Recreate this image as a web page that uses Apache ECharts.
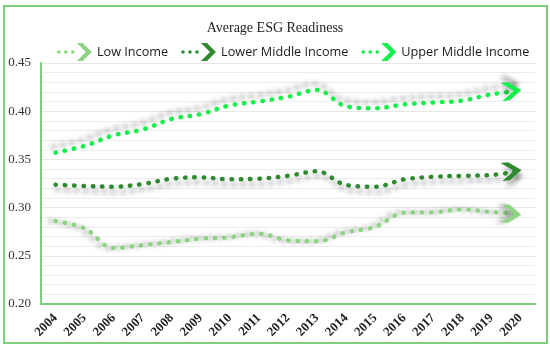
<!DOCTYPE html>
<html><head><meta charset="utf-8">
<script src="https://cdn.jsdelivr.net/npm/echarts@6/dist/echarts.min.js"></script>
<style>html,body{margin:0;padding:0;background:#fff}#c{width:550px;height:348px}</style>
</head><body><div id="c"></div>
<script>
var years = ['2004','2005','2006','2007','2008','2009','2010','2011','2012','2013','2014','2015','2016','2017','2018','2019','2020'];
var lowIncome = [0.286,0.2785,0.258,0.261,0.2643,0.2678,0.2692,0.273,0.266,0.265,0.2744,0.280,0.2947,0.2951,0.2982,0.2954,0.2934];
var lowerMiddle = [0.3238,0.3224,0.3217,0.3245,0.330,0.3314,0.3293,0.330,0.333,0.3377,0.3234,0.3217,0.3293,0.332,0.333,0.3338,0.338];
var upperMiddle = [0.357,0.364,0.375,0.381,0.392,0.397,0.406,0.410,0.415,0.422,0.405,0.403,0.407,0.409,0.411,0.4176,0.421];
var seriesNames = ['Low Income','Lower Middle Income','Upper Middle Income'];
var colors = ['#8dd483','#2f8a2f','#12ef48'];

var chevron = 'path://M0,0 L6,0 L16,8 L6,16 L0,16 L10,8 Z';
var legendIcon = 'path://M0.2,9a1.8,1.8 0 1,0 3.6,0a1.8,1.8 0 1,0 -3.6,0Z M7.2,9a1.8,1.8 0 1,0 3.6,0a1.8,1.8 0 1,0 -3.6,0Z M14.2,9a1.8,1.8 0 1,0 3.6,0a1.8,1.8 0 1,0 -3.6,0Z M20,0 L26,0 L35,9 L26,18 L20,18 L29,9 Z';

function mk(name, vals, color, sx, sy, rot) {
  var data = vals.map(function (v, i) {
    if (i === vals.length - 1) {
      return { value: v, symbol: chevron, symbolSize: [20, 18], symbolOffset: [-9, 0], symbolRotate: rot,
        itemStyle: { color: color, shadowColor: 'rgba(0,0,0,0.35)', shadowBlur: 5, shadowOffsetX: sx, shadowOffsetY: sy } };
    }
    return v;
  });
  return {
    name: name, type: 'line', data: data, smooth: 0.35, symbol: 'none', showSymbol: true,
    itemStyle: { color: color },
    lineStyle: { color: color, width: 4.5, type: [0.5, 8.8], cap: 'round',
      shadowColor: 'rgba(0,0,0,0.38)', shadowBlur: 5, shadowOffsetX: sx, shadowOffsetY: sy },
    emphasis: { disabled: true }, animation: false
  };
}

var chart = echarts.init(document.getElementById('c'));
chart.setOption({
  animation: false,
  color: colors,
  title: { text: 'Average ESG Readiness', left: 'center', top: 16,
    textStyle: { fontFamily: 'Liberation Serif', fontSize: 14, fontWeight: 'normal', color: '#222' } },
  legend: { data: seriesNames, left: 52, top: 38, icon: legendIcon, itemWidth: 35, itemHeight: 18, itemGap: 13,
    textStyle: { fontFamily: 'Open Sans', fontSize: 12.7, color: '#1a1a1a' } },
  grid: { left: 41, right: 15, top: 63, bottom: 44 },
  xAxis: { type: 'category', data: years, boundaryGap: true,
    axisLine: { lineStyle: { color: '#7ccd7c', width: 2 } },
    axisTick: { show: false },
    axisLabel: { rotate: 45, margin: 12, fontFamily: 'Liberation Serif', fontSize: 13, fontWeight: 'bold', color: '#222' } },
  yAxis: { type: 'value', min: 0.2, max: 0.45, interval: 0.05,
    axisLine: { show: true, lineStyle: { color: '#7ccd7c', width: 2 } },
    axisTick: { show: false },
    axisLabel: { margin: 10, fontFamily: 'Liberation Serif', fontSize: 13, color: '#333',
      formatter: function (v) { return v.toFixed(2); } },
    splitLine: { lineStyle: { color: '#e6e6e6', width: 1 } },
    minorTick: { show: false, splitNumber: 5 },
    minorSplitLine: { show: true, lineStyle: { color: '#ececec', width: 1 } } },
  graphic: [{ type: 'rect', shape: { x: 4, y: 6, width: 543, height: 337 },
    style: { fill: 'none', stroke: '#7ccd7c', lineWidth: 2 }, silent: true }],
  series: [
    mk(seriesNames[0], lowIncome, colors[0], -5, 0, -4),
    mk(seriesNames[1], lowerMiddle, colors[1], 2, 5, 6),
    mk(seriesNames[2], upperMiddle, colors[2], -2, -6, 6)
  ]
});
</script></body></html>
